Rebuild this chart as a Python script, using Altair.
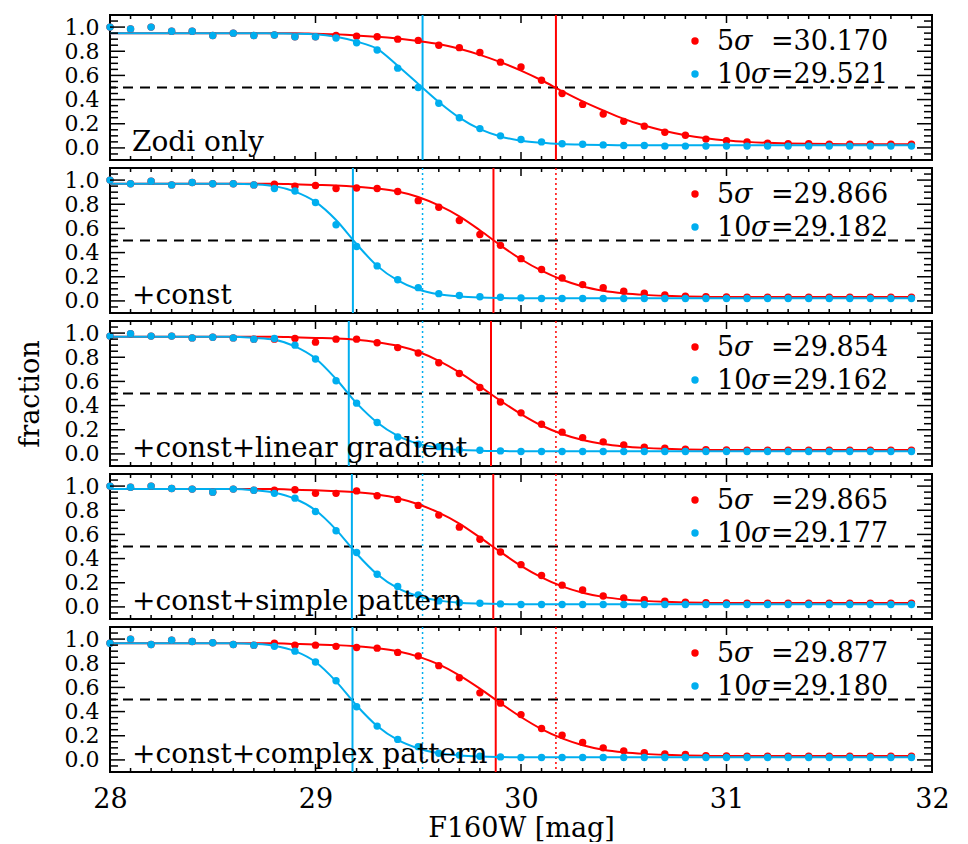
import altair as alt
import pandas as pd

# ---------------- data ----------------
MAG = [28.0, 28.1, 28.2, 28.3, 28.4, 28.5, 28.6, 28.7, 28.8, 28.9,
       29.0, 29.1, 29.2, 29.3, 29.4, 29.5, 29.6, 29.7, 29.8, 29.9,
       30.0, 30.1, 30.2, 30.3, 30.4, 30.5, 30.6, 30.7, 30.8, 30.9,
       31.0, 31.1, 31.2, 31.3, 31.4, 31.5, 31.6, 31.7, 31.8, 31.9]

PANEL_TEXT = ["Zodi only", "+const", "+const+linear gradient",
              "+const+simple pattern", "+const+complex pattern"]
SIG5 = [30.170, 29.866, 29.854, 29.865, 29.877]
SIG10 = [29.521, 29.182, 29.162, 29.177, 29.180]
ZODI5 = 30.170
ZODI10 = 29.521

# panel 1 : Zodi only
RED_PTS_1 = [1.00, 0.985, 1.00, 0.965, 0.965, 0.93, 0.95, 0.93, 0.935, 0.92,
             0.92, 0.93, 0.925, 0.92, 0.90, 0.89, 0.85, 0.83, 0.79, 0.71,
             0.67, 0.56, 0.45, 0.36, 0.28, 0.22, 0.18, 0.13, 0.105, 0.073,
             0.06, 0.05, 0.04, 0.035, 0.035, 0.03, 0.03, 0.03, 0.03, 0.03]
BLUE_PTS_1 = [1.00, 0.985, 1.00, 0.965, 0.965, 0.93, 0.95, 0.93, 0.935, 0.92,
              0.92, 0.91, 0.87, 0.81, 0.66, 0.50, 0.37, 0.25, 0.16, 0.10,
              0.07, 0.05, 0.035, 0.03, 0.025, 0.02, 0.02, 0.015, 0.015, 0.015,
              0.015, 0.015, 0.015, 0.015, 0.015, 0.015, 0.015, 0.015, 0.015, 0.015]
RED_FIT_1 = [0.95, 0.95, 0.95, 0.95, 0.95, 0.95, 0.95, 0.95, 0.95, 0.95,
             0.945, 0.94, 0.93, 0.92, 0.905, 0.885, 0.86, 0.82, 0.77, 0.71,
             0.64, 0.56, 0.47, 0.385, 0.31, 0.24, 0.185, 0.14, 0.105, 0.08,
             0.062, 0.05, 0.042, 0.037, 0.034, 0.032, 0.031, 0.03, 0.03, 0.03]
BLUE_FIT_1 = [0.95, 0.95, 0.95, 0.95, 0.95, 0.95, 0.95, 0.95, 0.947, 0.945,
              0.94, 0.92, 0.88, 0.82, 0.68, 0.53, 0.38, 0.25, 0.155, 0.095,
              0.06, 0.042, 0.032, 0.027, 0.024, 0.022, 0.022, 0.022, 0.022, 0.022,
              0.022, 0.022, 0.022, 0.022, 0.022, 0.022, 0.022, 0.022, 0.022, 0.022]

# panel 2 : +const
RED_PTS_2 = [1.00, 0.97, 0.99, 0.96, 0.98, 0.97, 0.97, 0.96, 0.965, 0.95,
             0.955, 0.93, 0.935, 0.93, 0.905, 0.83, 0.775, 0.665, 0.55, 0.46,
             0.35, 0.26, 0.19, 0.135, 0.11, 0.08, 0.063, 0.05, 0.04, 0.035,
             0.032, 0.03, 0.03, 0.03, 0.03, 0.03, 0.03, 0.03, 0.03, 0.03]
BLUE_PTS_2 = [1.00, 0.97, 0.99, 0.96, 0.98, 0.97, 0.97, 0.96, 0.93, 0.91,
              0.815, 0.63, 0.45, 0.29, 0.175, 0.11, 0.06, 0.045, 0.035, 0.03,
              0.025, 0.02, 0.02, 0.02, 0.02, 0.02, 0.02, 0.02, 0.02, 0.02,
              0.02, 0.02, 0.02, 0.02, 0.02, 0.02, 0.02, 0.02, 0.02, 0.02]
RED_FIT_2 = [0.97, 0.97, 0.97, 0.97, 0.97, 0.97, 0.97, 0.97, 0.97, 0.965,
             0.96, 0.955, 0.945, 0.93, 0.905, 0.86, 0.79, 0.70, 0.585, 0.46,
             0.345, 0.25, 0.175, 0.12, 0.085, 0.063, 0.05, 0.042, 0.037, 0.034,
             0.032, 0.032, 0.032, 0.032, 0.032, 0.032, 0.032, 0.032, 0.032, 0.032]
BLUE_FIT_2 = [0.97, 0.97, 0.97, 0.97, 0.97, 0.97, 0.97, 0.965, 0.95, 0.905,
              0.82, 0.67, 0.47, 0.29, 0.17, 0.095, 0.055, 0.037, 0.028, 0.024,
              0.022, 0.022, 0.022, 0.022, 0.022, 0.022, 0.022, 0.022, 0.022, 0.022,
              0.022, 0.022, 0.022, 0.022, 0.022, 0.022, 0.022, 0.022, 0.022, 0.022]

# panel 3 : +const+linear gradient
RED_PTS_3 = [0.975, 0.995, 0.975, 0.975, 0.96, 0.965, 0.96, 0.95, 0.95, 0.955,
             0.925, 0.95, 0.95, 0.92, 0.88, 0.835, 0.755, 0.665, 0.55, 0.43,
             0.34, 0.245, 0.18, 0.135, 0.10, 0.075, 0.055, 0.047, 0.04, 0.035,
             0.032, 0.03, 0.03, 0.03, 0.03, 0.03, 0.03, 0.03, 0.03, 0.03]
BLUE_PTS_3 = [0.975, 0.995, 0.975, 0.975, 0.96, 0.965, 0.96, 0.95, 0.955, 0.90,
              0.785, 0.605, 0.42, 0.26, 0.14, 0.08, 0.06, 0.035, 0.03, 0.025,
              0.02, 0.02, 0.02, 0.02, 0.02, 0.02, 0.02, 0.02, 0.02, 0.02,
              0.02, 0.02, 0.02, 0.02, 0.02, 0.02, 0.02, 0.02, 0.02, 0.02]
RED_FIT_3 = [0.97, 0.97, 0.97, 0.97, 0.97, 0.97, 0.97, 0.97, 0.97, 0.965,
             0.96, 0.955, 0.945, 0.925, 0.895, 0.845, 0.77, 0.675, 0.56, 0.44,
             0.33, 0.235, 0.165, 0.115, 0.082, 0.062, 0.05, 0.042, 0.037, 0.034,
             0.032, 0.032, 0.032, 0.032, 0.032, 0.032, 0.032, 0.032, 0.032, 0.032]
BLUE_FIT_3 = [0.97, 0.97, 0.97, 0.97, 0.97, 0.97, 0.97, 0.96, 0.945, 0.89,
              0.79, 0.62, 0.42, 0.26, 0.15, 0.085, 0.05, 0.034, 0.027, 0.024,
              0.022, 0.022, 0.022, 0.022, 0.022, 0.022, 0.022, 0.022, 0.022, 0.022,
              0.022, 0.022, 0.022, 0.022, 0.022, 0.022, 0.022, 0.022, 0.022, 0.022]

# panel 4 : +const+simple pattern
RED_PTS_4 = [1.00, 0.99, 1.00, 0.98, 0.975, 0.95, 0.975, 0.965, 0.965, 0.97,
             0.94, 0.94, 0.96, 0.92, 0.89, 0.84, 0.76, 0.66, 0.56, 0.455,
             0.35, 0.26, 0.18, 0.14, 0.09, 0.075, 0.06, 0.047, 0.04, 0.035,
             0.032, 0.03, 0.03, 0.03, 0.03, 0.03, 0.03, 0.03, 0.03, 0.03]
BLUE_PTS_4 = [1.00, 0.99, 1.00, 0.98, 0.975, 0.95, 0.975, 0.965, 0.94, 0.90,
              0.79, 0.63, 0.45, 0.27, 0.17, 0.10, 0.05, 0.035, 0.03, 0.025,
              0.02, 0.02, 0.02, 0.02, 0.02, 0.02, 0.02, 0.02, 0.02, 0.02,
              0.02, 0.02, 0.02, 0.02, 0.02, 0.02, 0.02, 0.02, 0.02, 0.02]
RED_FIT_4 = [0.975, 0.975, 0.975, 0.975, 0.975, 0.975, 0.975, 0.975, 0.975, 0.97,
             0.965, 0.958, 0.948, 0.93, 0.90, 0.85, 0.78, 0.69, 0.575, 0.455,
             0.34, 0.245, 0.17, 0.118, 0.083, 0.062, 0.05, 0.042, 0.037, 0.034,
             0.032, 0.032, 0.032, 0.032, 0.032, 0.032, 0.032, 0.032, 0.032, 0.032]
BLUE_FIT_4 = [0.975, 0.975, 0.975, 0.975, 0.975, 0.975, 0.975, 0.965, 0.945, 0.895,
              0.80, 0.64, 0.44, 0.27, 0.155, 0.088, 0.052, 0.035, 0.028, 0.024,
              0.022, 0.022, 0.022, 0.022, 0.022, 0.022, 0.022, 0.022, 0.022, 0.022,
              0.022, 0.022, 0.022, 0.022, 0.022, 0.022, 0.022, 0.022, 0.022, 0.022]

# panel 5 : +const+complex pattern
RED_PTS_5 = [0.965, 1.00, 0.955, 0.99, 0.98, 0.97, 0.955, 0.95, 0.965, 0.95,
             0.95, 0.94, 0.93, 0.925, 0.89, 0.86, 0.78, 0.68, 0.555, 0.47,
             0.375, 0.26, 0.205, 0.145, 0.10, 0.075, 0.06, 0.05, 0.045, 0.035,
             0.032, 0.03, 0.03, 0.03, 0.03, 0.03, 0.03, 0.03, 0.03, 0.03]
BLUE_PTS_5 = [0.965, 1.00, 0.955, 0.99, 0.98, 0.97, 0.955, 0.95, 0.94, 0.90,
              0.81, 0.655, 0.44, 0.28, 0.17, 0.11, 0.055, 0.04, 0.03, 0.025,
              0.02, 0.02, 0.02, 0.02, 0.02, 0.02, 0.02, 0.02, 0.02, 0.02,
              0.02, 0.02, 0.02, 0.02, 0.02, 0.02, 0.02, 0.02, 0.02, 0.02]
RED_FIT_5 = [0.965, 0.965, 0.965, 0.965, 0.965, 0.965, 0.965, 0.965, 0.965, 0.96,
             0.955, 0.95, 0.94, 0.925, 0.90, 0.855, 0.79, 0.70, 0.59, 0.47,
             0.355, 0.255, 0.178, 0.122, 0.085, 0.063, 0.05, 0.042, 0.037, 0.034,
             0.032, 0.032, 0.032, 0.032, 0.032, 0.032, 0.032, 0.032, 0.032, 0.032]
BLUE_FIT_5 = [0.965, 0.965, 0.965, 0.965, 0.965, 0.965, 0.965, 0.96, 0.945, 0.90,
              0.81, 0.65, 0.45, 0.28, 0.165, 0.095, 0.055, 0.037, 0.028, 0.024,
              0.022, 0.022, 0.022, 0.022, 0.022, 0.022, 0.022, 0.022, 0.022, 0.022,
              0.022, 0.022, 0.022, 0.022, 0.022, 0.022, 0.022, 0.022, 0.022, 0.022]

RED_PTS = [RED_PTS_1, RED_PTS_2, RED_PTS_3, RED_PTS_4, RED_PTS_5]
BLUE_PTS = [BLUE_PTS_1, BLUE_PTS_2, BLUE_PTS_3, BLUE_PTS_4, BLUE_PTS_5]
RED_FIT = [RED_FIT_1, RED_FIT_2, RED_FIT_3, RED_FIT_4, RED_FIT_5]
BLUE_FIT = [BLUE_FIT_1, BLUE_FIT_2, BLUE_FIT_3, BLUE_FIT_4, BLUE_FIT_5]

X_TICKS = [28, 29, 30, 31, 32]
X_MINOR = [28.1, 28.2, 28.3, 28.4, 28.5, 28.6, 28.7, 28.8, 28.9,
           29.1, 29.2, 29.3, 29.4, 29.5, 29.6, 29.7, 29.8, 29.9,
           30.1, 30.2, 30.3, 30.4, 30.5, 30.6, 30.7, 30.8, 30.9,
           31.1, 31.2, 31.3, 31.4, 31.5, 31.6, 31.7, 31.8, 31.9]
Y_TICKS = [0.0, 0.2, 0.4, 0.6, 0.8, 1.0]
Y_MINOR = [-0.05, 0.05, 0.1, 0.15, 0.25, 0.3, 0.35, 0.45, 0.5, 0.55,
           0.65, 0.7, 0.75, 0.85, 0.9, 0.95, 1.05]

for lst in RED_PTS + BLUE_PTS + RED_FIT + BLUE_FIT:
    assert len(lst) == len(MAG)

# ---------------- styling ----------------
W, H = 822, 145
FONT = "DejaVu Serif"
FS = 27
FS_Y = 22
FS_IN = 28
RED = "#ff0000"
BLUE = "#00aeef"

xs = alt.Scale(domain=[28, 32], nice=False, zero=False)
ys = alt.Scale(domain=[-0.1, 1.1], nice=False, zero=False)


def make_panel(i):
    last = i == 4
    xkw = dict(values=X_TICKS, format="d", ticks=False, domain=False, grid=False,
               labelFlush=False, labelOverlap=False)
    if last:
        xaxis = alt.Axis(labels=True, title="F160W [mag]", labelFont=FONT,
                         labelFontSize=FS, labelPadding=14, labelColor="black",
                         titleFont=FONT, titleFontSize=FS, titleFontWeight="normal",
                         titleColor="black", titlePadding=3, **xkw)
    else:
        xaxis = alt.Axis(labels=False, title=None, **xkw)
    ykw = dict(values=Y_TICKS, format=".1f", ticks=False, domain=False, grid=False,
               labelFont=FONT, labelFontSize=FS_Y, labelPadding=11, labelColor="black",
               labelOverlap=False, labelBaseline="middle", labelFlush=False)
    if i == 2:
        yaxis = alt.Axis(title="fraction", titleFont=FONT, titleFontSize=FS,
                         titleFontWeight="normal", titleColor="black", titlePadding=20, **ykw)
    else:
        yaxis = alt.Axis(title=None, **ykw)

    df_r = pd.DataFrame({"mag": MAG, "frac": RED_PTS[i]})
    df_b = pd.DataFrame({"mag": MAG, "frac": BLUE_PTS[i]})
    df_rf = pd.DataFrame({"mag": MAG, "frac": RED_FIT[i]})
    df_bf = pd.DataFrame({"mag": MAG, "frac": BLUE_FIT[i]})

    def X(f):
        return alt.X(f, type="quantitative", scale=xs, axis=xaxis)

    def Y(f):
        return alt.Y(f, type="quantitative", scale=ys, axis=yaxis)

    layers = []
    # dashed 0.5 line
    layers.append(alt.Chart(pd.DataFrame({"v": [0.5]})).mark_rule(
        color="black", strokeWidth=1.8, strokeDash=[10, 7]).encode(y=Y("v")))
    # dotted reference lines (zodi-only values)
    if i > 0:
        layers.append(alt.Chart(pd.DataFrame({"v": [ZODI10]})).mark_rule(
            color=BLUE, strokeWidth=1.5, strokeDash=[2, 3]).encode(x=X("v")))
        layers.append(alt.Chart(pd.DataFrame({"v": [ZODI5]})).mark_rule(
            color=RED, strokeWidth=1.5, strokeDash=[2, 3]).encode(x=X("v")))
    # solid vertical lines
    layers.append(alt.Chart(pd.DataFrame({"v": [SIG10[i]]})).mark_rule(
        color=BLUE, strokeWidth=2).encode(x=X("v")))
    layers.append(alt.Chart(pd.DataFrame({"v": [SIG5[i]]})).mark_rule(
        color=RED, strokeWidth=2).encode(x=X("v")))
    # fitted curves
    layers.append(alt.Chart(df_rf).mark_line(color=RED, strokeWidth=2, interpolate="monotone")
                  .encode(x=X("mag"), y=Y("frac")))
    layers.append(alt.Chart(df_bf).mark_line(color=BLUE, strokeWidth=2, interpolate="monotone")
                  .encode(x=X("mag"), y=Y("frac")))
    # points
    layers.append(alt.Chart(df_r).mark_circle(color=RED, size=55, opacity=1)
                  .encode(x=X("mag"), y=Y("frac")))
    layers.append(alt.Chart(df_b).mark_circle(color=BLUE, size=55, opacity=1)
                  .encode(x=X("mag"), y=Y("frac")))

    # inward ticks (IDL style)
    xmaj = pd.DataFrame({"v": X_TICKS})
    xmin = pd.DataFrame({"v": X_MINOR})
    ymaj = pd.DataFrame({"v": Y_TICKS})
    ymin = pd.DataFrame({"v": Y_MINOR})
    tk = dict(color="black", strokeWidth=1.5)
    for df, L in ((xmaj, 8), (xmin, 4)):
        layers.append(alt.Chart(df).mark_rule(**tk).encode(
            x=X("v"), y=alt.value(0), y2=alt.value(L)))
        layers.append(alt.Chart(df).mark_rule(**tk).encode(
            x=X("v"), y=alt.value(H), y2=alt.value(H - L)))
    for df, L in ((ymaj, 15), (ymin, 8)):
        layers.append(alt.Chart(df).mark_rule(**tk).encode(
            y=Y("v"), x=alt.value(0), x2=alt.value(L)))
        layers.append(alt.Chart(df).mark_rule(**tk).encode(
            y=Y("v"), x=alt.value(W), x2=alt.value(W - L)))

    # in-panel legend
    txt = dict(font=FONT, fontSize=FS, color="black", align="left", baseline="alphabetic")
    itxt = dict(txt, fontStyle="italic")
    rows = [("5", 624, SIG5[i], 35), ("10", 641, SIG10[i], 68)]
    for num, sx, val, yb in rows:
        layers.append(alt.Chart(pd.DataFrame({"t": [num]})).mark_text(**txt).encode(
            x=alt.value(607), y=alt.value(yb), text="t:N"))
        layers.append(alt.Chart(pd.DataFrame({"t": ["σ"]})).mark_text(**itxt).encode(
            x=alt.value(sx), y=alt.value(yb), text="t:N"))
        layers.append(alt.Chart(pd.DataFrame({"t": ["=%.3f" % val]})).mark_text(**txt).encode(
            x=alt.value(661), y=alt.value(yb), text="t:N"))
    layers.append(alt.Chart(pd.DataFrame({"c": ["r"]})).mark_circle(color=RED, size=55, opacity=1)
                  .encode(x=alt.value(585), y=alt.value(26)))
    layers.append(alt.Chart(pd.DataFrame({"c": ["b"]})).mark_circle(color=BLUE, size=55, opacity=1)
                  .encode(x=alt.value(585), y=alt.value(59)))
    # panel label
    layers.append(alt.Chart(pd.DataFrame({"t": [PANEL_TEXT[i]]})).mark_text(
        **dict(txt, fontSize=FS_IN)).encode(x=alt.value(22), y=alt.value(136), text="t:N"))

    return alt.layer(*layers).properties(width=W, height=H)


chart = alt.vconcat(*[make_panel(i) for i in range(5)], spacing=8, bounds="flush").properties(
    padding={"left": 7, "top": 5, "right": 5, "bottom": 0},
    background="white",
).configure_view(stroke="black", strokeWidth=2)

chart.save("out.html", embed_options={"renderer": "svg", "actions": False})
